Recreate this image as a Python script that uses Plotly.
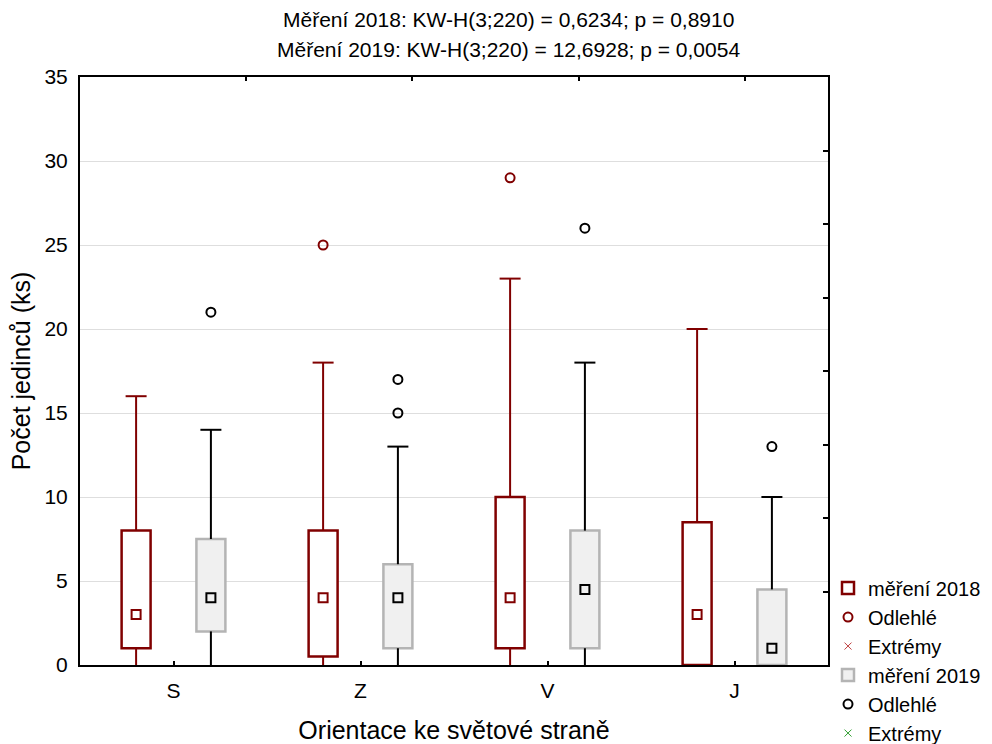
import plotly.graph_objects as go

# ---------------- data ----------------
categories = ["S", "Z", "V", "J"]

# měření 2018
q1_2018 = [1.0, 0.5, 1.0, 0.0]
med_2018 = [3.0, 4.0, 4.0, 3.0]
q3_2018 = [8.0, 8.0, 10.0, 8.5]
low_2018 = [0.0, 0.0, 0.0, 0.0]
up_2018 = [16.0, 18.0, 23.0, 20.0]
out_cat_2018 = [1, 2]
out_val_2018 = [25.0, 29.0]

# měření 2019
q1_2019 = [2.0, 1.0, 1.0, 0.0]
med_2019 = [4.0, 4.0, 4.5, 1.0]
q3_2019 = [7.5, 6.0, 8.0, 4.5]
low_2019 = [0.0, 0.0, 0.0, 0.0]
up_2019 = [14.0, 13.0, 18.0, 10.0]
out_cat_2019 = [0, 1, 1, 2, 3]
out_val_2019 = [21.0, 15.0, 17.0, 26.0, 13.0]

title_lines = [
    "Měření 2018: KW-H(3;220) = 0,6234; p = 0,8910",
    "Měření 2019: KW-H(3;220) = 12,6928; p = 0,0054",
]

FONT = "Liberation Sans, Arial, sans-serif"
FS = 21
RED = "#800000"
BLACK = "#000000"
GRAY_EDGE = "#b4b4b4"
GRAY_FILL = "#f0f0f0"

series = [
    dict(name="měření 2018", off=-0.2, q1=q1_2018, med=med_2018, q3=q3_2018,
         low=low_2018, up=up_2018, oc=out_cat_2018, ov=out_val_2018,
         edge=RED, fill="#ffffff", wh=RED, mk=RED, ext="#c04040"),
    dict(name="měření 2019", off=0.2, q1=q1_2019, med=med_2019, q3=q3_2019,
         low=low_2019, up=up_2019, oc=out_cat_2019, ov=out_val_2019,
         edge=GRAY_EDGE, fill=GRAY_FILL, wh=BLACK, mk=BLACK, ext="#30a030"),
]

BOXW = 0.155
fig = go.Figure()
rank = 1
for s in series:
    xs = [i + s["off"] for i in range(len(categories))]
    # box bodies
    fig.add_trace(go.Bar(
        x=xs, base=s["q1"], y=[b - a for a, b in zip(s["q1"], s["q3"])],
        width=BOXW, marker=dict(color=s["fill"], line=dict(color=s["edge"], width=2.5)),
        name=s["name"], legendgroup=s["name"] + "b", legendrank=rank,
        hoverinfo="skip"))
    rank += 1
    # whiskers
    wx, wy = [], []
    for x, a, b, lo, hi in zip(xs, s["q1"], s["q3"], s["low"], s["up"]):
        wx += [x, x, None]
        wy += [b, hi, None]
        if lo < a:
            wx += [x, x, None]
            wy += [lo, a, None]
    fig.add_trace(go.Scatter(x=wx, y=wy, mode="lines",
                             line=dict(color=s["wh"], width=2),
                             showlegend=False, hoverinfo="skip"))
    # caps
    fig.add_trace(go.Scatter(x=xs, y=s["up"], mode="markers",
                             marker=dict(symbol="line-ew", size=15,
                                         line=dict(color=s["wh"], width=2)),
                             showlegend=False, hoverinfo="skip"))
    # medians
    fig.add_trace(go.Scatter(x=xs, y=s["med"], mode="markers",
                             marker=dict(symbol="square-open", size=9, color=s["mk"],
                                         line=dict(color=s["mk"], width=2)),
                             showlegend=False, hoverinfo="skip"))
    # outliers
    fig.add_trace(go.Scatter(x=[c + s["off"] for c in s["oc"]], y=s["ov"], mode="markers",
                             marker=dict(symbol="circle-open", size=9, color=s["mk"],
                                         line=dict(color=s["mk"], width=2)),
                             name="Odlehlé", legendgroup=s["name"] + "o",
                             legendrank=rank, hoverinfo="skip"))
    rank += 1
    # extremes (none present)
    fig.add_trace(go.Scatter(x=[None], y=[None], mode="markers",
                             marker=dict(symbol="x-thin-open", size=7, color=s["ext"],
                                         line=dict(color=s["ext"], width=1)),
                             name="Extrémy", legendgroup=s["name"] + "e",
                             legendrank=rank, hoverinfo="skip"))
    rank += 1

# helper trace for the mirrored frame axes
fig.add_trace(go.Scatter(x=[None], y=[None], xaxis="x2", yaxis="y2",
                         showlegend=False, hoverinfo="skip"))

for k, txt in enumerate(title_lines):
    fig.add_annotation(text=txt, xref="paper", yref="paper",
                       x=0.5735, y=[1.097, 1.0476][k], xanchor="center", yanchor="middle",
                       showarrow=False, font=dict(family=FONT, size=FS, color="black"))

fig.update_layout(
    width=992, height=744,
    margin=dict(l=80, r=164, t=77, b=79, autoexpand=False),
    paper_bgcolor="white", plot_bgcolor="white",
    font=dict(family=FONT, size=FS, color="black"),
    barmode="overlay",
    showlegend=True,
    legend=dict(x=1.0, xanchor="left", y=0.164, yanchor="top",
                traceorder="grouped", tracegroupgap=0,
                font=dict(family=FONT, size=20, color="black"),
                bgcolor="rgba(0,0,0,0)"),
    xaxis=dict(range=[-0.5, 3.5], tickvals=list(range(len(categories))),
               ticktext=categories, ticks="inside", ticklen=4, tickwidth=2,
               tickcolor="black", showline=True, linecolor="black", linewidth=2,
               showgrid=False, zeroline=False, ticklabelstandoff=6,
               title=dict(text="Orientace ke světové straně", standoff=20)),
    yaxis=dict(range=[0, 35], dtick=5, ticks="", showline=True, linecolor="black",
               linewidth=2, showgrid=True, gridcolor="#dedede", gridwidth=1,
               zeroline=False, ticklabelstandoff=6,
               title=dict(text="Počet jedinců (ks)", standoff=7)),
    xaxis2=dict(overlaying="x", side="top", range=[0, 4.5], tickvals=[1, 2, 3, 4],
                ticks="inside", ticklen=4, tickwidth=2, tickcolor="black",
                showticklabels=False, showline=True, linecolor="black", linewidth=2,
                showgrid=False, zeroline=False, anchor="y2"),
    yaxis2=dict(overlaying="y", side="right", range=[0, 35],
                tickvals=[4.375 * k for k in range(1, 8)],
                ticks="inside", ticklen=5, tickwidth=2, tickcolor="black",
                showticklabels=False, showline=True, linecolor="black", linewidth=2,
                showgrid=False, zeroline=False, anchor="x2"),
)

fig.write_html("out.html")
